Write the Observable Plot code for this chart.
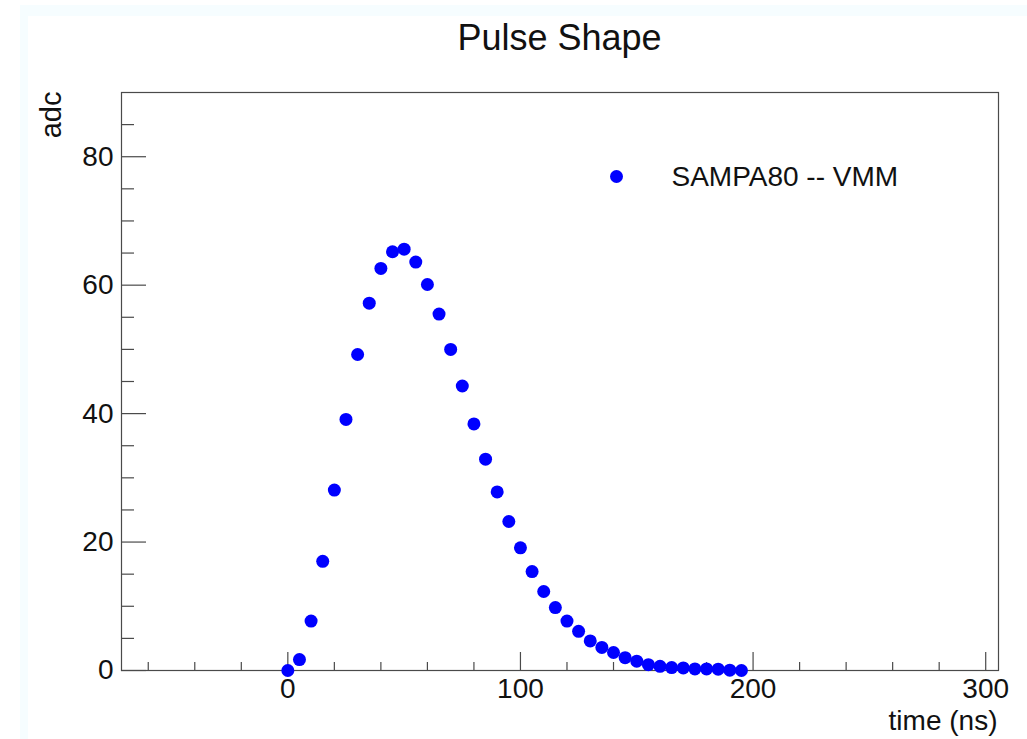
<!DOCTYPE html>
<html>
<head>
<meta charset="utf-8">
<script src="https://cdn.jsdelivr.net/npm/d3@7"></script>
<script src="https://cdn.jsdelivr.net/npm/@observablehq/plot@0.6"></script>
<style>
  html, body { margin: 0; padding: 0; background: #ffffff; }
  body { width: 1027px; height: 739px; position: relative; overflow: hidden;
         font-family: "Liberation Sans", Arial, Helvetica, sans-serif; }
  .strip { position: absolute; background: #f6fdff; z-index: 0; }
  #title { position: relative; z-index: 1; height: 80px; box-sizing: border-box;
           padding-top: 20px; padding-left: 121px; width: 998px;
           font-size: 36px; line-height: 36px; text-align: center; color: #111; }
  #chart { position: relative; z-index: 1; }
</style>
</head>
<body>
<div class="strip" style="left:20px;top:5px;width:1007px;height:11px"></div>
<div class="strip" style="left:20px;top:5px;width:8px;height:734px"></div>
<div id="title">Pulse Shape</div>
<div id="chart"></div>
<script>
// ---- data ----
const seriesName = "SAMPA80 -- VMM";
const timeNs = [0, 5, 10, 15, 20, 25, 30, 35, 40, 45, 50, 55, 60, 65, 70, 75, 80, 85, 90, 95,
                100, 105, 110, 115, 120, 125, 130, 135, 140, 145, 150, 155, 160, 165, 170, 175, 180, 185, 190, 195];
const adc = [0, 1.7, 7.7, 17.0, 28.1, 39.1, 49.2, 57.2, 62.6, 65.2, 65.6, 63.6, 60.1, 55.5, 50.0, 44.3, 38.4, 32.9, 27.8, 23.2,
             19.1, 15.4, 12.3, 9.8, 7.7, 6.1, 4.6, 3.6, 2.8, 2.0, 1.45, 0.9, 0.65, 0.45, 0.4, 0.25, 0.25, 0.2, 0.05, 0.0];
const xMajorTicks = [0, 100, 200, 300];
const xMinorTicks = [-60, -40, -20, 20, 40, 60, 80, 120, 140, 160, 180, 220, 240, 260, 280];
const yMajorTicks = [0, 20, 40, 60, 80];
const yMinorTicks = [5, 10, 15, 25, 30, 35, 45, 50, 55, 65, 70, 75, 85];
const xDomain = [-71.5, 305.5];
const yDomain = [0, 90];
const xLabel = "time (ns)";
const yLabel = "adc";

const points = timeNs.map((t, i) => ({time: t, adc: adc[i]}));

const W = 1027, H = 659;
const mL = 121, mR = 29, mT = 12, mB = 69;
const plotW = W - mL - mR, plotH = H - mT - mB;
const ink = "#111";
const axisInk = "#4a4a4a";
const blue = "#0000ff";

const chart = Plot.plot({
  width: W,
  height: H,
  marginLeft: mL,
  marginRight: mR,
  marginTop: mT,
  marginBottom: mB,
  style: {background: "transparent", fontFamily: "'Liberation Sans', Arial, Helvetica, sans-serif", color: ink},
  x: {domain: xDomain},
  y: {domain: yDomain},
  marks: [
    Plot.frame({stroke: axisInk, strokeWidth: 1.2}),
    // inward ticks on the left axis
    Plot.tickY(yMajorTicks, {y: d => d, insetRight: plotW - 25, stroke: axisInk, strokeWidth: 1.2}),
    Plot.tickY(yMinorTicks, {y: d => d, insetRight: plotW - 13, stroke: axisInk, strokeWidth: 1.2}),
    // inward ticks on the bottom axis
    Plot.tickX(xMajorTicks, {x: d => d, insetTop: plotH - 18, stroke: axisInk, strokeWidth: 1.2}),
    Plot.tickX(xMinorTicks, {x: d => d, insetTop: plotH - 8, stroke: axisInk, strokeWidth: 1.2}),
    Plot.axisY({ticks: yMajorTicks, tickSize: 0, tickPadding: 8, fontSize: 28, label: null, fill: ink}),
    Plot.axisX({ticks: xMajorTicks, tickSize: 0, tickPadding: 8, fontSize: 28, label: null, fill: ink}),
    Plot.text([yLabel], {text: d => d, frameAnchor: "top-left", rotate: -90, textAnchor: "end",
                         lineAnchor: "bottom", dx: -61, dy: -1, fontSize: 29, fill: ink}),
    Plot.text([xLabel], {text: d => d, frameAnchor: "bottom-right", textAnchor: "end",
                         lineAnchor: "bottom", dx: -1, dy: 59, fontSize: 28, fill: ink}),
    Plot.dot(points, {x: "time", y: "adc", r: 6.5, fill: blue, stroke: null}),
    // legend
    Plot.dot([seriesName], {frameAnchor: "top-left", dx: 495, dy: 84, r: 6.5, fill: blue}),
    Plot.text([seriesName], {text: d => d, frameAnchor: "top-left", textAnchor: "start", lineAnchor: "middle",
                             dx: 550, dy: 85, fontSize: 28, fill: ink})
  ]
});
document.getElementById("chart").appendChild(chart);
</script>
</body>
</html>
